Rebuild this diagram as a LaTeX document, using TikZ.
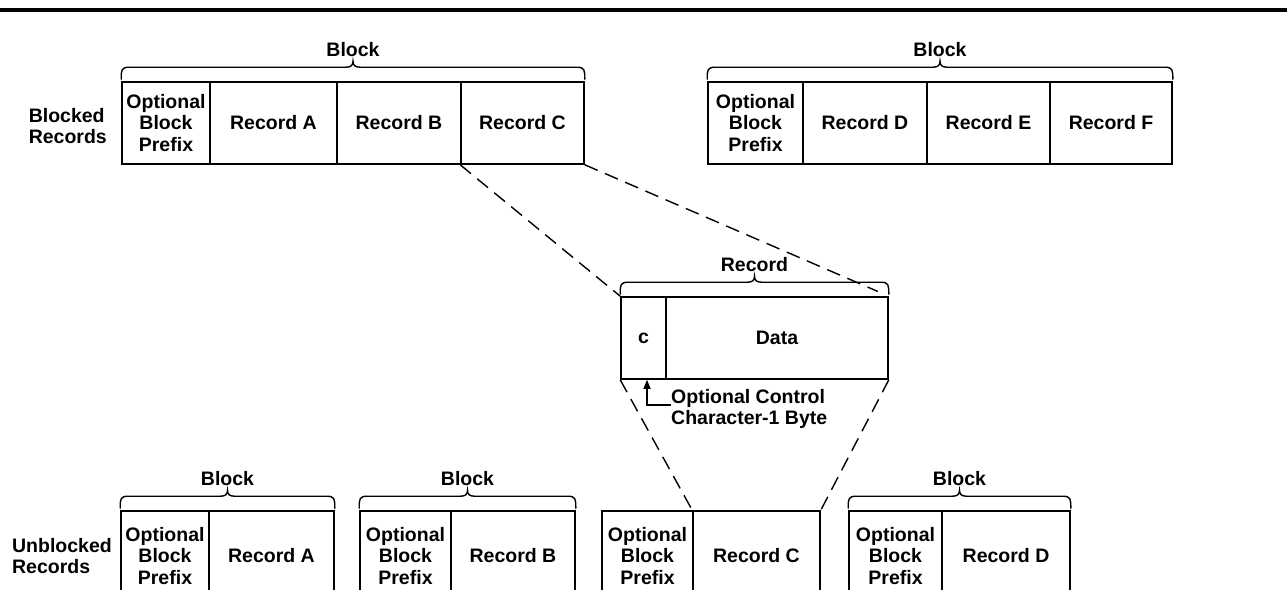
\documentclass[tikz,border=0pt]{standalone}
\usepackage{fontspec}
\setmainfont{Liberation Sans}
\usetikzlibrary{calc,arrows.meta}

% one cell of a record layout: name, x0, x1, y0, y1, text
\newcommand\cell[6]{%
  \node[cellbox, minimum width={#3-#2}, minimum height={#5-#4}]
    (#1) at ({(#2+#3)/2},{(#4+#5)/2}) {#6};}

% bracket over a group of cells: left cell, right cell, label name, label text
\newcommand\groupbrace[4]{%
  \draw[bracestyle] let \p1=(#1.north west), \p2=(#2.north east), \n1={(\x1+\x2)/2} in
    (\x1,\y1+2pt) .. controls (\x1,\y1+11pt) and (\x1,\y1+14pt) .. (\x1+8pt,\y1+14pt)
    -- (\n1-7pt,\y1+14pt) .. controls (\n1-2pt,\y1+14pt) and (\n1,\y1+16pt) .. (\n1,\y1+20pt)
    .. controls (\n1,\y1+16pt) and (\n1+2pt,\y1+14pt) .. (\n1+7pt,\y1+14pt)
    -- (\x2-8pt,\y1+14pt) .. controls (\x2,\y1+14pt) and (\x2,\y1+11pt) .. (\x2,\y1+2pt)
    node[lbl, anchor=base] (#3) at (\n1,\y1+25pt) {#4};}

\begin{document}
\begin{tikzpicture}[x=1pt,y=-1pt,
  txt/.style={font=\bfseries\fontsize{19.5}{21.5}\selectfont},
  cellbox/.style={txt, draw, line width=1.6pt, inner sep=0pt, align=center},
  lbl/.style={txt, inner sep=0pt},
  bracestyle/.style={line width=1.4pt, line cap=round},
  zoomline/.style={line width=1.4pt, dash pattern=on 14pt off 8pt},
]
\useasboundingbox (0,0) rectangle (1287,589);
\clip (0,0) rectangle (1287,589);

% page rule
\draw[line width=3.5pt] (0,10) -- (1287,10);

% blocked records
\node[lbl, anchor=east, align=left] (blk) at (107,126) {Blocked\\Records};
\cell{tP}{122}{210}{82}{164}{Optional\\Block\\Prefix}
\cell{tA}{210}{337}{82}{164}{Record A}
\cell{tB}{337}{461}{82}{164}{Record B}
\cell{tC}{461}{584}{82}{164}{Record C}
\groupbrace{tP}{tC}{tblk1}{Block}

\cell{tQ}{708}{803}{82}{164}{Optional\\Block\\Prefix}
\cell{tD}{803}{927}{82}{164}{Record D}
\cell{tE}{927}{1050}{82}{164}{Record E}
\cell{tF}{1050}{1172}{82}{164}{Record F}
\groupbrace{tQ}{tF}{tblk2}{Block}

% one record in detail
\cell{rc}{621}{666}{297}{379}{c}
\cell{rd}{666}{888}{297}{379}{Data}
\groupbrace{rc}{rd}{rlbl}{Record}

\node[lbl, anchor=west, align=left] (note) at (671,409) {Optional Control\\Character-1 Byte};
\coordinate (bend) at (647,405);
\draw[line width=1.4pt, -{Triangle[length=9pt,width=7pt]}]
  (note.west |- bend) -- (bend) -- (bend |- rc.south);

% unblocked records
\node[lbl, anchor=east, align=left] (ublk) at (112,556) {Unblocked\\Records};
\cell{uPa}{121}{209}{511}{601}{Optional\\Block\\Prefix}
\cell{uA}{209}{334}{511}{601}{Record A}
\groupbrace{uPa}{uA}{ublk1}{Block}

\cell{uPb}{360}{451}{511}{601}{Optional\\Block\\Prefix}
\cell{uB}{451}{575}{511}{601}{Record B}
\groupbrace{uPb}{uB}{ublk2}{Block}

\cell{uPc}{602}{693}{511}{601}{Optional\\Block\\Prefix}
\cell{uC}{693}{820}{511}{601}{Record C}

\cell{uPd}{849}{942}{511}{601}{Optional\\Block\\Prefix}
\cell{uD}{942}{1070}{511}{601}{Record D}
\groupbrace{uPd}{uD}{ublk4}{Block}

% expansion lines
\draw[zoomline] (tC.south west) -- (rc.north west);
\draw[zoomline, shorten >=12pt] (tC.south east) -- (rd.north east);
\draw[zoomline] (rc.south west) -- (uC.north west);
\draw[zoomline] (rd.south east) -- (uC.north east);
\end{tikzpicture}
\end{document}
